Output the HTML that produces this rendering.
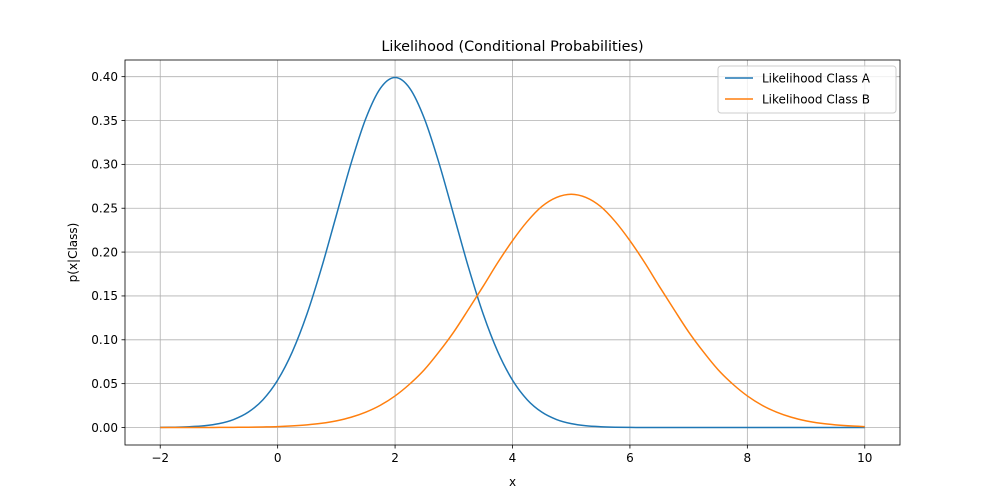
<!DOCTYPE html>
<html><head><meta charset="utf-8"><style>
html,body{margin:0;padding:0;background:#fff;}
svg{display:block;font-family:"DejaVu Sans","Liberation Sans",sans-serif;}
</style></head><body>
<svg id="chart" width="1000" height="500" viewBox="0 0 1000 500">
<rect width="1000" height="500" fill="#fff"/>
<g id="grid"></g>
<g id="series"></g>
<rect x="125" y="60" width="775" height="385" fill="none" stroke="#000" stroke-width="0.8"/>
<g id="ticks"></g>
<text x="512.5" y="51" text-anchor="middle" font-size="14.4">Likelihood (Conditional Probabilities)</text>
<text x="512.5" y="486" text-anchor="middle" font-size="12">x</text>
<text transform="translate(77,252.5) rotate(-90)" text-anchor="middle" font-size="12">p(x|Class)</text>
<g>
<rect x="718" y="66" width="178" height="47" rx="3" fill="#fff" fill-opacity="0.8" stroke="#ccc" stroke-width="1"/>
<line x1="725" y1="78" x2="753" y2="78" stroke="#1f77b4" stroke-width="1.5"/>
<text x="762" y="82.5" font-size="12">Likelihood Class A</text>
<line x1="725" y1="99" x2="753" y2="99" stroke="#ff7f0e" stroke-width="1.5"/>
<text x="762" y="103.5" font-size="12">Likelihood Class B</text>
</g>
</svg>
<script>
const xValues = [-2,-1.75,-1.5,-1.25,-1,-0.75,-0.5,-0.25,0,0.25,0.5,0.75,1,1.25,1.5,1.75,2,2.25,2.5,2.75,3,3.25,3.5,3.75,4,4.25,4.5,4.75,5,5.25,5.5,5.75,6,6.25,6.5,6.75,7,7.25,7.5,7.75,8,8.25,8.5,8.75,9,9.25,9.5,9.75,10];
const classA = [0.0001,0.00035,0.0009,0.002,0.0044,0.0091,0.0175,0.0317,0.054,0.0863,0.1295,0.1826,0.242,0.3011,0.352,0.3867,0.399,0.3867,0.352,0.3011,0.242,0.1826,0.1295,0.0863,0.054,0.0317,0.0175,0.0091,0.0044,0.002,0.0009,0.00035,0.0001,0,0,0,0,0,0,0,0,0,0,0,0,0,0,0,0];
const classB = [0,0,0,0,0.0001,0.0002,0.0003,0.0006,0.001,0.0018,0.003,0.0048,0.0076,0.0117,0.0175,0.0254,0.036,0.0496,0.066,0.0864,0.109,0.1347,0.161,0.1881,0.213,0.2348,0.252,0.2623,0.266,0.2623,0.252,0.2348,0.213,0.1881,0.161,0.1347,0.109,0.0864,0.066,0.0496,0.036,0.0254,0.0175,0.0117,0.0076,0.0048,0.003,0.0018,0.001];
const xTicks = [-2,0,2,4,6,8,10];
const yTicks = [0,0.05,0.10,0.15,0.20,0.25,0.30,0.35,0.40];
const yTickLabels = ["0.00","0.05","0.10","0.15","0.20","0.25","0.30","0.35","0.40"];

const NS = "http://www.w3.org/2000/svg";
const L=125,R=900,T=60,B=445;
const xMin=-2.6,xMax=10.6,yMin=-0.01995,yMax=0.419;
const sx=v=>L+(v-xMin)/(xMax-xMin)*(R-L);
const sy=v=>B-(v-yMin)/(yMax-yMin)*(B-T);
function mk(tag,attrs,parent){const e=document.createElementNS(NS,tag);for(const k in attrs)e.setAttribute(k,attrs[k]);parent.appendChild(e);return e;}
const grid=document.getElementById('grid'),ticks=document.getElementById('ticks'),series=document.getElementById('series');
xTicks.forEach(t=>{
  const x=sx(t);
  const g=mk('line',{x1:x,x2:x,y1:T,y2:B,stroke:'#b0b0b0','stroke-width':0.8},grid);
  
  
  const tk=mk('line',{x1:x,x2:x,y1:B,y2:B+3.5,stroke:'#000','stroke-width':0.8},ticks);
  
  
  const lb=mk('text',{x:x,y:B+17,'text-anchor':'middle','font-size':12},ticks);
  lb.textContent=(t<0?'\u2212'+(-t):String(t));
  
  
});
yTicks.forEach((t,i)=>{
  const y=sy(t);
  const g=mk('line',{x1:L,x2:R,y1:y,y2:y,stroke:'#b0b0b0','stroke-width':0.8},grid);
  
  
  const tk=mk('line',{x1:L-3.5,x2:L,y1:y,y2:y,stroke:'#000','stroke-width':0.8},ticks);
  
  
  const lb=mk('text',{x:L-7,y:y+4.3,'text-anchor':'end','font-size':12},ticks);
  lb.textContent=yTickLabels[i];
  
  
});
function curve(vals){
  const p=xValues.map((x,i)=>[sx(x),sy(vals[i])]);
  let d='M'+p[0][0]+','+p[0][1];
  for(let i=0;i<p.length-1;i++){
    const p0=p[Math.max(i-1,0)],p1=p[i],p2=p[i+1],p3=p[Math.min(i+2,p.length-1)];
    const c1=[p1[0]+(p2[0]-p0[0])/6,p1[1]+(p2[1]-p0[1])/6];
    const c2=[p2[0]-(p3[0]-p1[0])/6,p2[1]-(p3[1]-p1[1])/6];
    d+=' C'+c1[0]+','+c1[1]+' '+c2[0]+','+c2[1]+' '+p2[0]+','+p2[1];
  }
  return d;
}
const la=mk('path',{d:curve(classA),fill:'none',stroke:'#1f77b4','stroke-width':1.5},series);


const lbB=mk('path',{d:curve(classB),fill:'none',stroke:'#ff7f0e','stroke-width':1.5},series);


</script>
</body></html>
